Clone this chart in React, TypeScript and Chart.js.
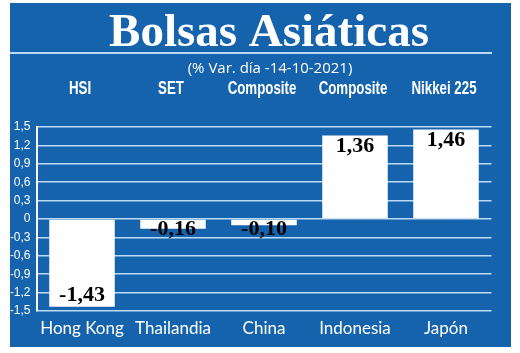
import React, { useEffect, useRef } from "react";
import { Chart, registerables } from "chart.js";

Chart.register(...registerables);

const categories = ["Hong Kong", "Thailandia", "China", "Indonesia", "Japón"];
const indices = ["HSI", "SET", "Composite", "Composite", "Nikkei 225"];
const values = [-1.43, -0.16, -0.1, 1.36, 1.46];
const titleText = "Bolsas Asiáticas";
const subtitleText = "(% Var. día -14-10-2021)";

const BLUE = "#1663ad";
const GRID = "rgba(196,224,248,0.95)";

const fmt = (v: number) => v.toFixed(2).replace(".", ",");

const decorPlugin = {
  id: "decor",
  beforeDraw(chart: any) {
    const ctx = chart.ctx;
    ctx.save();
    ctx.fillStyle = "#ffffff";
    ctx.fillRect(0, 0, chart.width, chart.height);
    ctx.fillStyle = BLUE;
    ctx.fillRect(10, 3, 501, 344);
    ctx.restore();
  },
  afterDraw(chart: any) {
    const ctx = chart.ctx;
    const xs = chart.scales.x;
    ctx.save();
    ctx.fillStyle = "#ffffff";
    ctx.textAlign = "center";
    ctx.textBaseline = "alphabetic";
    ctx.font = "bold 47px 'Liberation Serif', serif";
    ctx.fillText(titleText, 269, 46);
    ctx.strokeStyle = GRID;
    ctx.lineWidth = 2;
    ctx.beginPath();
    ctx.moveTo(10, 53);
    ctx.lineTo(492, 53);
    ctx.stroke();
    ctx.textBaseline = "middle";
    ctx.font = "15px 'Open Sans', sans-serif";
    ctx.fillText(subtitleText, 270, 69);
    ctx.font = "bold 19px 'Liberation Sans', sans-serif";
    indices.forEach((t, i) => {
      ctx.save();
      ctx.translate(xs.getPixelForValue(i) - 2, 89);
      ctx.scale(0.7, 1);
      ctx.fillText(t, 0, 0);
      ctx.restore();
    });
    ctx.restore();
  },
  afterDatasetsDraw(chart: any) {
    const ctx = chart.ctx;
    const meta = chart.getDatasetMeta(0);
    const zero = chart.scales.y.getPixelForValue(0);
    ctx.save();
    ctx.fillStyle = "#000000";
    ctx.textAlign = "center";
    ctx.textBaseline = "middle";
    ctx.font = "bold 22px 'Liberation Serif', serif";
    meta.data.forEach((bar: any, i: number) => {
      const v = values[i];
      let y;
      if (v >= 0) y = bar.y + 11;
      else y = Math.max(bar.y - 11, zero + 10);
      ctx.fillText(fmt(v), bar.x, y);
    });
    ctx.restore();
  },
};

export default function App() {
  const ref = useRef<HTMLCanvasElement>(null);
  useEffect(() => {
    if (!ref.current) return;
    const chart = new Chart(ref.current, {
      type: "bar",
      data: {
        labels: categories,
        datasets: [
          {
            data: values,
            backgroundColor: "#ffffff",
            borderWidth: 0,
            barPercentage: 0.72,
            categoryPercentage: 1,
          },
        ],
      },
      options: {
        responsive: false,
        animation: false,
        devicePixelRatio: 1,
        layout: { padding: { left: 10.5, right: 28.5, top: 127, bottom: 0 } },
        plugins: { legend: { display: false }, tooltip: { enabled: false } },
        scales: {
          x: {
            grid: { display: false, drawTicks: false },
            border: { display: false },
            ticks: {
              color: "#ffffff",
              padding: 7,
              font: { family: "Lato, 'Open Sans', sans-serif", size: 17 },
            },
            afterFit: (s: any) => {
              s.height = 42;
            },
          },
          y: {
            min: -1.5,
            max: 1.5,
            grid: { color: GRID, lineWidth: 1.5, drawTicks: false },
            border: { display: true, color: "#ffffff", width: 2 },
            ticks: {
              stepSize: 0.3,
              color: "#ffffff",
              padding: 6,
              font: { family: "'Liberation Sans Narrow', 'Liberation Sans', sans-serif", size: 12 },
              callback: (v: any) => {
                const n = Number(v);
                if (Math.abs(n) < 1e-9) return "0";
                return n.toFixed(1).replace(".", ",");
              },
            },
            afterFit: (s: any) => {
              s.width = 26;
            },
          },
        },
      },
      plugins: [decorPlugin],
    });
    return () => chart.destroy();
  }, []);
  return (
    <div style={{ position: "absolute", left: 0, top: 0, width: 520, height: 353 }}>
      <canvas ref={ref} width={520} height={353} />
    </div>
  );
}
